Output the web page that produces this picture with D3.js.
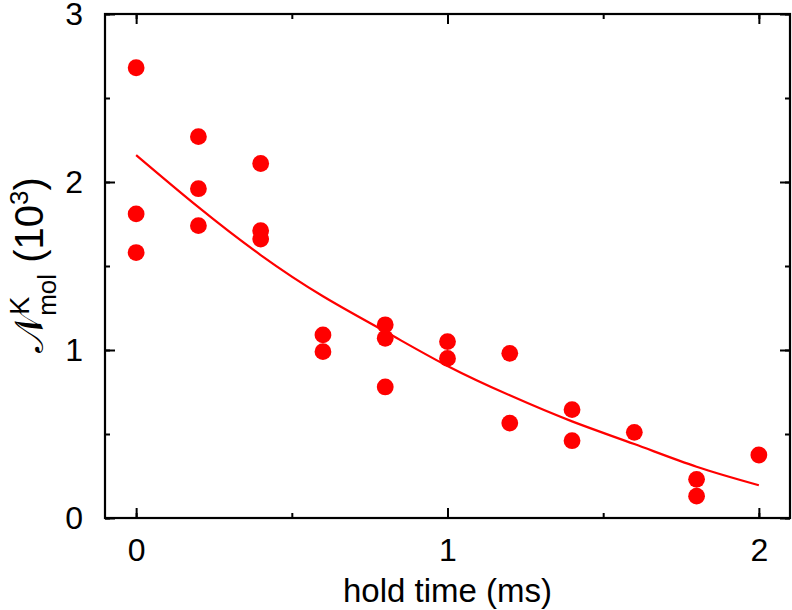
<!DOCTYPE html>
<html>
<head>
<meta charset="utf-8">
<script src="https://cdn.jsdelivr.net/npm/d3@7"></script>
<style>
  body { margin: 0; background: #fff; }
  svg text { font-family: Arial, "Liberation Sans", sans-serif; }
</style>
</head>
<body>
<div id="container"></div>
<script>
// hold time (ms) and molecule number (10^3)
const holdTime = [0, 0, 0, 0.2, 0.2, 0.2, 0.4, 0.4, 0.4, 0.6, 0.6, 0.8, 0.8, 0.8,
  1.0, 1.0, 1.2, 1.2, 1.4, 1.4, 1.6, 1.8, 1.8, 2.0];
const molNumber = [2.68, 1.81, 1.58, 2.27, 1.96, 1.74, 2.11, 1.71, 1.66, 1.09, 0.99,
  1.15, 1.07, 0.78, 1.05, 0.95, 0.98, 0.565, 0.645, 0.46, 0.51, 0.23, 0.13, 0.375];

// fitted decay curve, sampled from the figure
const fitTime = [0, 0.2, 0.4, 0.6, 0.8, 1.0, 1.2, 1.4, 1.6, 1.8, 2.0];
const fitValue = [2.16, 1.85, 1.565, 1.32, 1.11, 0.905, 0.73, 0.575, 0.44, 0.305, 0.195];

const xTicks = [0, 1, 2];
const yTicks = [0, 1, 2, 3];

const width = 792, height = 610;
const margin = {left: 105, right: 2, top: 14, bottom: 92};

const svg = d3.select("#container")
  .append("svg")
  .attr("width", width)
  .attr("height", height);

const x = d3.scaleLinear()
  .domain([-0.1, 2.1])
  .range([margin.left, width - margin.right]);

const y = d3.scaleLinear()
  .domain([0, 3])
  .range([height - margin.bottom, margin.top]);

const red = "#ff0000";

// frame
svg.append("rect")
  .attr("x", x(-0.1))
  .attr("y", y(3))
  .attr("width", x(2.1) - x(-0.1))
  .attr("height", y(0) - y(3))
  .attr("fill", "none")
  .attr("stroke", "#000")
  .attr("stroke-width", 2.2);

// axes, ticks pointing inward
function styleAxis(g) {
  g.select(".domain").remove();
  g.selectAll("line").attr("stroke", "#000").attr("stroke-width", 2);
  g.selectAll("text")
    .attr("fill", "#000")
    .style("font-size", "32px");
}

const xMinor = d3.range(0, 2.01, 0.5);
const yMinor = d3.range(0, 3.01, 0.5);

// bottom
svg.append("g")
  .attr("transform", `translate(0,${y(0)})`)
  .call(d3.axisBottom(x).tickValues(xMinor).tickSize(-5).tickFormat(""))
  .call(styleAxis);
svg.append("g")
  .attr("transform", `translate(0,${y(0)})`)
  .call(d3.axisBottom(x).tickValues(xTicks).tickSize(-10).tickPadding(20).tickFormat(d3.format("d")))
  .call(styleAxis);
// top
svg.append("g")
  .attr("transform", `translate(0,${y(3)})`)
  .call(d3.axisTop(x).tickValues(xMinor).tickSize(-5).tickFormat(""))
  .call(styleAxis);
svg.append("g")
  .attr("transform", `translate(0,${y(3)})`)
  .call(d3.axisTop(x).tickValues(xTicks).tickSize(-10).tickFormat(""))
  .call(styleAxis);
// left
svg.append("g")
  .attr("transform", `translate(${x(-0.1)},0)`)
  .call(d3.axisLeft(y).tickValues(yMinor).tickSize(-5).tickFormat(""))
  .call(styleAxis);
svg.append("g")
  .attr("transform", `translate(${x(-0.1)},0)`)
  .call(d3.axisLeft(y).tickValues(yTicks).tickSize(-10).tickPadding(22).tickFormat(d3.format("d")))
  .call(styleAxis);
// right
svg.append("g")
  .attr("transform", `translate(${x(2.1)},0)`)
  .call(d3.axisRight(y).tickValues(yMinor).tickSize(-5).tickFormat(""))
  .call(styleAxis);
svg.append("g")
  .attr("transform", `translate(${x(2.1)},0)`)
  .call(d3.axisRight(y).tickValues(yTicks).tickSize(-10).tickFormat(""))
  .call(styleAxis);

// fit curve
const line = d3.line()
  .x((d, i) => x(fitTime[i]))
  .y(d => y(d))
  .curve(d3.curveNatural);

svg.append("path")
  .datum(fitValue)
  .attr("d", line)
  .attr("fill", "none")
  .attr("stroke", red)
  .attr("stroke-width", 2.2);

// data points
svg.append("g")
  .selectAll("circle")
  .data(molNumber)
  .enter().append("circle")
  .attr("cx", (d, i) => x(holdTime[i]))
  .attr("cy", d => y(d))
  .attr("r", 8.4)
  .attr("fill", red);

// axis titles
svg.append("text")
  .attr("x", x(1))
  .attr("y", 602)
  .attr("text-anchor", "middle")
  .style("font-size", "33px")
  .text("hold time (ms)");

const yTitle = svg.append("text")
  .attr("transform", `translate(43,265) rotate(-90)`)
  .attr("text-anchor", "middle")
  .style("font-size", "40px");
yTitle.append("tspan").text("\u{1D4A9}");
yTitle.append("tspan").attr("dy", -14).style("font-size", "27px").text("K");
yTitle.append("tspan").attr("dx", -19).attr("dy", 27).style("font-size", "26px").text("mol");
yTitle.append("tspan").attr("dy", -13).text(" (10");
yTitle.append("tspan").attr("dy", -15).style("font-size", "26px").text("3");
yTitle.append("tspan").attr("dy", 15).text(")");
</script>
</body>
</html>
